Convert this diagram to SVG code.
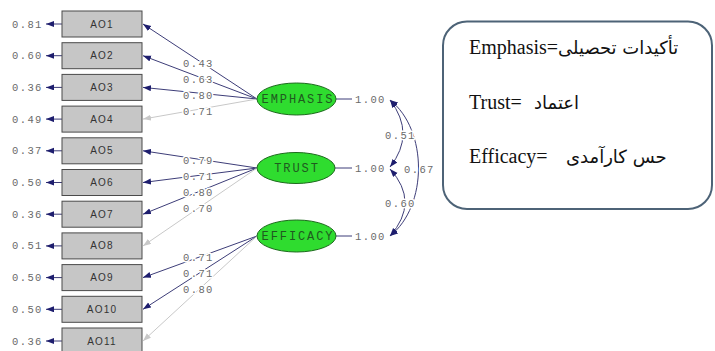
<svg xmlns="http://www.w3.org/2000/svg" width="715" height="351" viewBox="0 0 715 351">
<style>
.box{fill:#c6c6c6;stroke:#4a4a4a;stroke-width:1}
.bt{font-family:"Liberation Sans",Arial,sans-serif;font-size:10px;letter-spacing:1.2px;fill:#333;text-anchor:middle}
.num{font-family:"Liberation Mono","Courier New",monospace;font-size:10.5px;letter-spacing:1.4px;fill:#6a6a6a;stroke:#fff;stroke-width:3;paint-order:stroke;stroke-linejoin:round}
.lat{fill:#2fdc2f;stroke:#1d6a1d;stroke-width:1}
.lt{font-family:"Liberation Mono","Courier New",monospace;font-size:12px;letter-spacing:1.9px;fill:#1f5a1f;text-anchor:middle}
.dk{stroke:#3d3d78;stroke-width:1;fill:none}
.lg{stroke:#c8c8c8;stroke-width:1;fill:none}
.leg{font-family:"Liberation Serif","Times New Roman","DejaVu Sans",serif;font-size:20px;fill:#111}
.ar{font-family:"DejaVu Sans","Noto Sans",sans-serif;font-size:18px;fill:#111}
</style>
<defs>
<marker id="ad" markerUnits="userSpaceOnUse" markerWidth="9" markerHeight="7" refX="8" refY="3" orient="auto"><path d="M0,0 L8,3 L0,6 z" fill="#1e1e6e"/></marker>
<marker id="al" markerUnits="userSpaceOnUse" markerWidth="9" markerHeight="7" refX="8" refY="3" orient="auto"><path d="M0,0 L8,3 L0,6 z" fill="#c8c8c8"/></marker>
<marker id="ac" markerUnits="userSpaceOnUse" markerWidth="9" markerHeight="7" refX="8" refY="3" orient="auto-start-reverse"><path d="M0,0 L8,3 L0,6 z" fill="#1e1e6e"/></marker>
</defs>
<rect width="715" height="351" fill="#fff"/>

<g id="connectors">
<line class="dk" x1="62" y1="24" x2="46" y2="24" marker-end="url(#ad)"/>
<line class="dk" x1="62" y1="55.7" x2="46" y2="55.7" marker-end="url(#ad)"/>
<line class="dk" x1="62" y1="87.4" x2="46" y2="87.4" marker-end="url(#ad)"/>
<line class="dk" x1="62" y1="119.1" x2="46" y2="119.1" marker-end="url(#ad)"/>
<line class="dk" x1="62" y1="150.8" x2="46" y2="150.8" marker-end="url(#ad)"/>
<line class="dk" x1="62" y1="182.5" x2="46" y2="182.5" marker-end="url(#ad)"/>
<line class="dk" x1="62" y1="214.2" x2="46" y2="214.2" marker-end="url(#ad)"/>
<line class="dk" x1="62" y1="245.9" x2="46" y2="245.9" marker-end="url(#ad)"/>
<line class="dk" x1="62" y1="277.6" x2="46" y2="277.6" marker-end="url(#ad)"/>
<line class="dk" x1="62" y1="309.3" x2="46" y2="309.3" marker-end="url(#ad)"/>
<line class="dk" x1="62" y1="341" x2="46" y2="341" marker-end="url(#ad)"/>
<line class="dk" x1="257" y1="99" x2="143" y2="24" marker-end="url(#ad)"/>
<line class="dk" x1="257" y1="99" x2="143" y2="55.7" marker-end="url(#ad)"/>
<line class="dk" x1="257" y1="99" x2="143" y2="87.4" marker-end="url(#ad)"/>
<line class="lg" x1="257" y1="99" x2="143" y2="119.1" marker-end="url(#al)"/>
<line class="dk" x1="257" y1="168" x2="143" y2="150.8" marker-end="url(#ad)"/>
<line class="dk" x1="257" y1="168" x2="143" y2="182.5" marker-end="url(#ad)"/>
<line class="dk" x1="257" y1="168" x2="143" y2="214.2" marker-end="url(#ad)"/>
<line class="lg" x1="257" y1="168" x2="143" y2="245.9" marker-end="url(#al)"/>
<line class="dk" x1="257" y1="236" x2="143" y2="277.6" marker-end="url(#ad)"/>
<line class="dk" x1="257" y1="236" x2="143" y2="309.3" marker-end="url(#ad)"/>
<line class="lg" x1="257" y1="236" x2="143" y2="341" marker-end="url(#al)"/>
<line class="dk" x1="336" y1="99" x2="352" y2="99"/>
<line class="dk" x1="335" y1="168" x2="352" y2="168"/>
<line class="dk" x1="336" y1="236" x2="352" y2="236"/>
<path class="dk" d="M390,100 Q416,134 390,167" marker-start="url(#ac)" marker-end="url(#ac)"/>
<path class="dk" d="M390,169 Q420,202 390,236" marker-start="url(#ac)" marker-end="url(#ac)"/>
<path class="dk" d="M390,100 C428,130 428,206 390,236" marker-start="url(#ac)" marker-end="url(#ac)"/>
<text class="num" x="12" y="27.5">0.81</text>
<text class="num" x="12" y="59.2">0.60</text>
<text class="num" x="12" y="90.9">0.36</text>
<text class="num" x="12" y="122.6">0.49</text>
<text class="num" x="12" y="154.3">0.37</text>
<text class="num" x="12" y="186">0.50</text>
<text class="num" x="12" y="217.7">0.36</text>
<text class="num" x="12" y="249.4">0.51</text>
<text class="num" x="12" y="281.1">0.50</text>
<text class="num" x="12" y="312.8">0.50</text>
<text class="num" x="12" y="344.5">0.36</text>
<text class="num" x="183" y="66.5">0.43</text>
<text class="num" x="183" y="82.5">0.63</text>
<text class="num" x="183" y="98.5">0.80</text>
<text class="num" x="183" y="114.5">0.71</text>
<text class="num" x="183" y="163.5">0.79</text>
<text class="num" x="183" y="179.5">0.71</text>
<text class="num" x="183" y="195.5">0.80</text>
<text class="num" x="183" y="211.5">0.70</text>
<text class="num" x="183" y="260.5">0.71</text>
<text class="num" x="183" y="276.5">0.71</text>
<text class="num" x="183" y="292.5">0.80</text>
<text class="num" x="355" y="102.5">1.00</text>
<text class="num" x="355" y="171.5">1.00</text>
<text class="num" x="355" y="239.5">1.00</text>
<text class="num" x="385" y="138.5">0.51</text>
<text class="num" x="385" y="206.5">0.60</text>
<text class="num" x="404" y="172.5">0.67</text>
</g>

<g id="AO1"><rect class="box" x="62" y="11" width="80" height="26"/><text class="bt" x="102" y="27.5">AO1</text></g>
<g id="AO2"><rect class="box" x="62" y="42.7" width="80" height="26"/><text class="bt" x="102" y="59.2">AO2</text></g>
<g id="AO3"><rect class="box" x="62" y="74.4" width="80" height="26"/><text class="bt" x="102" y="90.9">AO3</text></g>
<g id="AO4"><rect class="box" x="62" y="106.1" width="80" height="26"/><text class="bt" x="102" y="122.6">AO4</text></g>
<g id="AO5"><rect class="box" x="62" y="137.8" width="80" height="26"/><text class="bt" x="102" y="154.3">AO5</text></g>
<g id="AO6"><rect class="box" x="62" y="169.5" width="80" height="26"/><text class="bt" x="102" y="186">AO6</text></g>
<g id="AO7"><rect class="box" x="62" y="201.2" width="80" height="26"/><text class="bt" x="102" y="217.7">AO7</text></g>
<g id="AO8"><rect class="box" x="62" y="232.9" width="80" height="26"/><text class="bt" x="102" y="249.4">AO8</text></g>
<g id="AO9"><rect class="box" x="62" y="264.6" width="80" height="26"/><text class="bt" x="102" y="281.1">AO9</text></g>
<g id="AO10"><rect class="box" x="62" y="296.3" width="80" height="26"/><text class="bt" x="102" y="312.8">AO10</text></g>
<g id="AO11"><rect class="box" x="62" y="328" width="80" height="26"/><text class="bt" x="102" y="344.5">AO11</text></g>

<g id="EMPHASIS"><ellipse class="lat" cx="296.5" cy="99" rx="39.5" ry="16"/><text class="lt" x="298" y="103">EMPHASIS</text></g>
<g id="TRUST"><ellipse class="lat" cx="296" cy="168" rx="39" ry="15.5"/><text class="lt" x="297" y="172">TRUST</text></g>
<g id="EFFICACY"><ellipse class="lat" cx="296.5" cy="236" rx="39.5" ry="16"/><text class="lt" x="298" y="240">EFFICACY</text></g>

<g id="legend">
<rect x="443" y="21.5" width="269" height="187.5" rx="24" fill="#fff" stroke="#4d6377" stroke-width="2"/>
<text class="leg" x="469" y="54">Emphasis=</text>
<text class="ar" x="558" y="54">تأکیدات تحصیلی</text>
<text class="leg" x="469" y="109">Trust=</text>
<text class="ar" x="534" y="109">اعتماد</text>
<text class="leg" x="469" y="163">Efficacy=</text>
<text class="ar" x="566" y="163">حس کارآمدی</text>
</g>
</svg>
